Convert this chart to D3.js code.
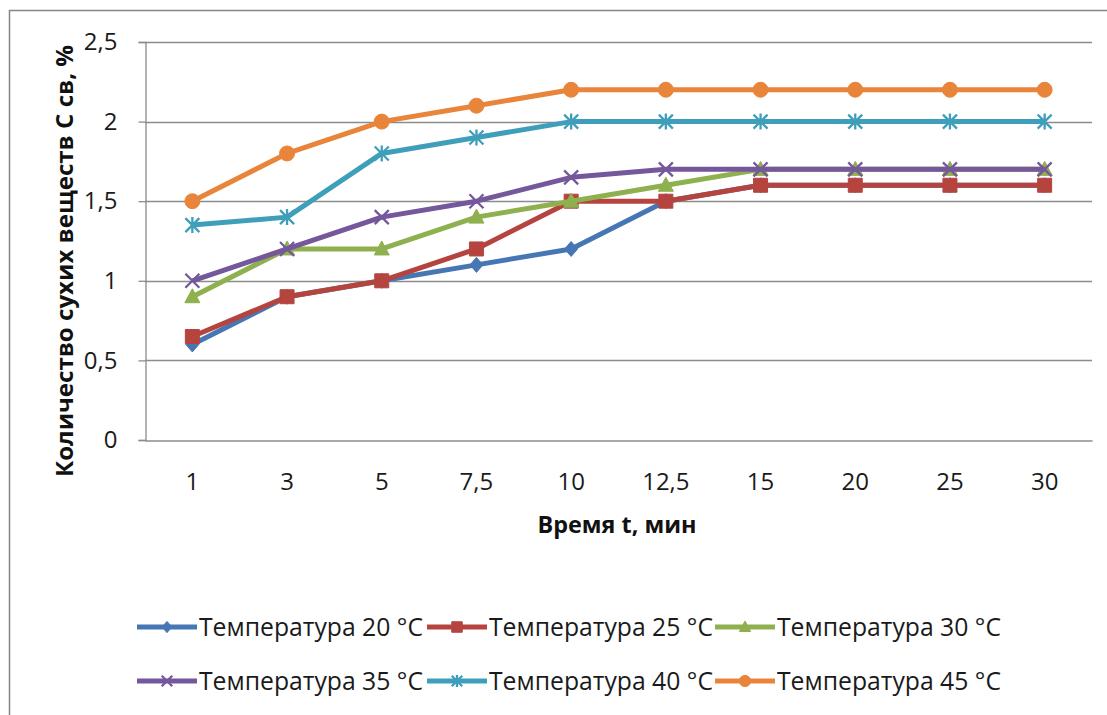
<!DOCTYPE html>
<html><head><meta charset="utf-8">
<script src="https://cdn.jsdelivr.net/npm/d3@7"></script>
<style>
html,body{margin:0;padding:0;background:#fff;}
svg{display:block;font-family:"Open Sans", sans-serif;}
</style></head>
<body><svg id="c" width="1107" height="715"></svg>
<script>
const categories = ["1","3","5","7,5","10","12,5","15","20","25","30"];
const seriesNames = ["Температура 20 °C","Температура 25 °C","Температура 30 °C","Температура 35 °C","Температура 40 °C","Температура 45 °C"];
const t20 = [0.6,0.9,1.0,1.1,1.2,1.5,1.6,1.6,1.6,1.6];
const t25 = [0.65,0.9,1.0,1.2,1.5,1.5,1.6,1.6,1.6,1.6];
const t30 = [0.9,1.2,1.2,1.4,1.5,1.6,1.7,1.7,1.7,1.7];
const t35 = [1.0,1.2,1.4,1.5,1.65,1.7,1.7,1.7,1.7,1.7];
const t40 = [1.35,1.4,1.8,1.9,2.0,2.0,2.0,2.0,2.0,2.0];
const t45 = [1.5,1.8,2.0,2.1,2.2,2.2,2.2,2.2,2.2,2.2];
const yTicks = [0,0.5,1,1.5,2,2.5];
const yTickLabels = ["0","0,5","1","1,5","2","2,5"];
const colors = ["#4677B4","#B5443F","#8FB04F","#74589B","#3F9FBA","#E9853A"];
const markers = ["diamond","square","triangle","times","star","circle"];
const seriesValues = [t20,t25,t30,t35,t40,t45];

const svg = d3.select("#c");
const L=145, R=1092, T=42, B=440;
const x = d3.scaleBand().domain(categories).range([L,R]);
const y = d3.scaleLinear().domain([0,2.5]).range([B,T]);

// outer frame
svg.append("rect").attr("x",9.5).attr("y",10.5).attr("width",1140).attr("height",740)
  .attr("fill","none").attr("stroke","#868686").attr("stroke-width",1.5);

// gridlines
svg.append("g").selectAll("line").data(yTicks.filter(d=>d>0)).join("line")
  .attr("x1",L).attr("x2",R).attr("y1",d=>Math.round(y(d))+0.5).attr("y2",d=>Math.round(y(d))+0.5)
  .attr("stroke","#8c8c8c").attr("stroke-width",1.3);

// y axis
const yAxis = d3.axisLeft(y).tickValues(yTicks).tickFormat((d,i)=>yTickLabels[i]).tickSize(7).tickPadding(21);
const gy = svg.append("g").attr("transform",`translate(${L+0.5},0)`).call(yAxis);
gy.select(".domain").attr("stroke","#8c8c8c").attr("stroke-width",1.3);
gy.selectAll(".tick line").attr("stroke","#8c8c8c").attr("stroke-width",1.3);
gy.selectAll(".tick text").attr("font-size",24).attr("fill","#1a1a1a").attr("font-family","'Open Sans', sans-serif");

// x axis
const xAxis = d3.axisBottom(x).tickSize(0).tickPadding(32);
const gx = svg.append("g").attr("transform",`translate(0,${B+0.5})`).call(xAxis);
gx.select(".domain").attr("stroke","#8c8c8c").attr("stroke-width",1.3);
gx.selectAll(".tick text").attr("font-size",24).attr("fill","#1a1a1a").attr("font-family","'Open Sans', sans-serif");

// titles
svg.append("text").attr("x",617).attr("y",533).attr("text-anchor","middle")
  .attr("font-size",24).attr("font-weight","bold").attr("fill","#111")
  .attr("textLength",159).attr("lengthAdjust","spacingAndGlyphs").text("Время t, мин");
svg.append("text").attr("transform","translate(73,261) rotate(-90)").attr("text-anchor","middle")
  .attr("font-size",24).attr("font-weight","bold").attr("fill","#111")
  .attr("textLength",432).attr("lengthAdjust","spacingAndGlyphs").text("Количество сухих веществ С св, %");

function markerPath(type){
  switch(type){
    case "diamond": return "M0,-7.5L6.5,0L0,7.5L-6.5,0Z";
    case "square": return "M-7,-7H7V7H-7Z";
    case "triangle": return "M0,-8L7.5,6H-7.5Z";
    case "circle": return d3.symbol(d3.symbolCircle,176)();
    case "times": return "M-7,-7L7,7M7,-7L-7,7";
    case "star": return "M-7,-7L7,7M7,-7L-7,7M0,-8V8";
  }
}
function drawMarker(g,type,color,cx,cy,k){
  const stroke = (type==="times"||type==="star");
  g.append("path").attr("d",markerPath(type)).attr("transform",`translate(${cx},${cy}) scale(${k})`)
    .attr("fill",stroke?"none":color).attr("stroke",color).attr("stroke-width",(stroke?2.3:1)/k);
}

const line = d3.line().x((d,i)=>x(categories[i])+x.bandwidth()/2).y(d=>y(d));
seriesValues.forEach((vals,s)=>{
  const g = svg.append("g");
  g.append("path").datum(vals).attr("d",line).attr("fill","none")
    .attr("stroke",colors[s]).attr("stroke-width",5).attr("stroke-linejoin","round");
  vals.forEach((v,i)=>drawMarker(g,markers[s],colors[s],x(categories[i])+x.bandwidth()/2,y(v),1));
});

// legend
const legX = [137,427,715], legBase=[636,690];
seriesNames.forEach((name,s)=>{
  const lx = legX[s%3], bl = legBase[Math.floor(s/3)], ly = bl-9;
  const g = svg.append("g");
  g.append("line").attr("x1",lx).attr("x2",lx+60).attr("y1",ly).attr("y2",ly)
    .attr("stroke",colors[s]).attr("stroke-width",5);
  drawMarker(g,markers[s],colors[s],lx+30,ly,0.75);
  g.append("text").attr("x",lx+62).attr("y",bl).attr("font-size",25).attr("fill","#1a1a1a")
    .attr("textLength",224).attr("lengthAdjust","spacingAndGlyphs").text(name);
});
</script></body></html>
